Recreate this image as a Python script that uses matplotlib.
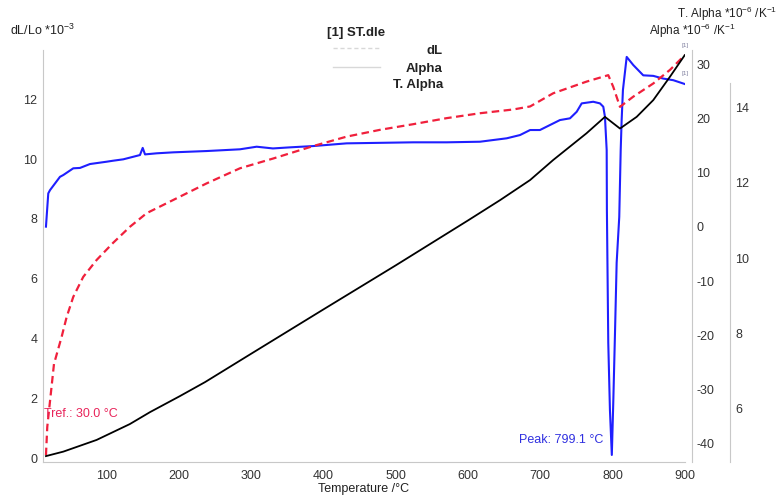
import matplotlib
matplotlib.use("Agg")
import matplotlib.pyplot as plt

plt.rcParams['font.family'] = ['Liberation Sans', 'DejaVu Sans']
plt.rcParams['mathtext.fontset'] = 'custom'
plt.rcParams['mathtext.rm'] = 'Liberation Sans'
plt.rcParams['mathtext.it'] = 'Liberation Sans:italic'
plt.rcParams['mathtext.bf'] = 'Liberation Sans:bold'
plt.rcParams['mathtext.default'] = 'regular'
plt.rcParams['axes.unicode_minus'] = False

# ---- data ----
dl_temp = [15.9, 40, 86, 132, 160, 201, 236, 300, 400, 500, 600, 644.5, 686, 718,
           764, 789.6, 810.4, 833.5, 856.5, 879.6, 900]
dl_val = [0.08, 0.23, 0.62, 1.15, 1.55, 2.08, 2.55, 3.5, 4.98, 6.45, 7.95, 8.63, 9.3,
          9.97, 10.86, 11.41, 11.02, 11.41, 11.97, 12.75, 13.47]

ta_temp = [15.9, 17.7, 27, 37.6, 44.6, 53.7, 67.5, 86.1, 108.7, 132.2, 155.3, 192.1,
           238.3, 284.4, 330.5, 385.9, 432.1, 478.2, 524.3, 570.5, 616.6, 662.7, 686,
           718, 764.3, 794.2, 801.1, 810.4, 828.8, 856.5, 879.6, 900]
ta_val = [4.77, 5.52, 7.19, 7.91, 8.44, 8.97, 9.50, 9.95, 10.40, 10.83, 11.19, 11.54,
          11.98, 12.38, 12.64, 12.97, 13.22, 13.40, 13.55, 13.71, 13.84, 13.94, 14.02,
          14.37, 14.68, 14.85, 14.54, 14.01, 14.28, 14.63, 14.99, 15.38]

al_temp = [15.9, 19.1, 21.5, 35.3, 39.9, 53.7, 63, 76.8, 99.9, 108.7, 122.9, 146,
           149.8, 153, 169.1, 192.1, 238.3, 284.4, 307.5, 330, 353.6, 385.9, 432.1,
           524.3, 570.5, 616.6, 653.6, 672, 686, 699.6, 727.3, 741.2, 750.5, 757.4,
           773.4, 782.7, 787.3, 789.6, 792, 792.3, 794.2, 796.5, 799.1, 801.1, 803.5,
           805.8, 809.4, 811.4, 812.7, 814.5, 819.7, 828.8, 842.6, 856.5, 870.3,
           884.2, 900]
al_val = [0.06, 6.2, 6.8, 9.26, 9.59, 10.83, 10.9, 11.62, 12.05, 12.23, 12.49, 13.28,
          14.6, 13.4, 13.60, 13.78, 14.02, 14.34, 14.82, 14.5, 14.70, 14.94, 15.44,
          15.63, 15.63, 15.74, 16.37, 16.97, 17.9, 17.9, 19.74, 20.06, 21.27, 22.82,
          23.12, 22.82, 22.2, 20.35, 14.2, 3.1, -21.4, -33.8, -42.1, -32.5, -19.6,
          -6.6, 1.85, 14.2, 19.7, 25.3, 31.4, 29.9, 28.0, 27.9, 27.4, 27.1, 26.4]

x_ticks = [100, 200, 300, 400, 500, 600, 700, 800, 900]
dl_ticks = [0, 2, 4, 6, 8, 10, 12]
al_ticks = [-40, -30, -20, -10, 0, 10, 20, 30]
ta_ticks = [6, 8, 10, 12, 14]

W, H = 780, 496
fig = plt.figure(figsize=(W / 100, H / 100), dpi=100)

def fx(x):
    return x / W

def fy(y):
    return 1 - y / H

L, R, T, B = 43, 685, 45, 462
rect = [fx(L), fy(B), (R - L) / W, (B - T) / H]

xlim = (11.8, 900.4)
tick_col = '#333333'
spine_col = '#c8c8c8'
fs = 9

# Alpha axis (blue)
ax_al = fig.add_axes(rect)
ax_al.set_zorder(1)
ax_al.patch.set_visible(False)
# T. Alpha axis (red)
ax_ta = fig.add_axes(rect)
ax_ta.set_zorder(2)
ax_ta.patch.set_visible(False)
# dL axis (black)
ax = fig.add_axes(rect)
ax.set_zorder(3)
ax.patch.set_visible(False)

for a in (ax_al, ax_ta, ax):
    a.set_xlim(*xlim)
    for s in a.spines.values():
        s.set_visible(False)
    a.tick_params(length=0, labelsize=fs, colors=tick_col)

# dL
ax.plot(dl_temp, dl_val, color='black', lw=1.3)
ax.set_ylim(-0.117, 13.81)
ax.set_yticks(dl_ticks)
ax.set_xticks(x_ticks)
ax.tick_params(axis='y', pad=4)
ax.tick_params(axis='x', pad=5.5)
ax.spines['left'].set_visible(True)
ax.spines['left'].set_color(spine_col)
ax.spines['left'].set_bounds(-0.117, 13.64)
ax.spines['bottom'].set_visible(True)
ax.spines['bottom'].set_color(spine_col)
ax.set_xlabel('Temperature /°C', fontsize=fs, color='#222222', labelpad=1)

# Alpha
ax_al.plot(al_temp, al_val, color='#1f1fff', lw=1.5)
ax_al.set_ylim(-43.4, 33.6)
ax_al.set_yticks(al_ticks)
ax_al.set_xticks([])
ax_al.yaxis.tick_right()
ax_al.tick_params(axis='y', pad=3)
ax_al.spines['right'].set_visible(True)
ax_al.spines['right'].set_color(spine_col)
ax_al.spines['right'].set_position(('axes', (692 - L) / (R - L)))
ax_al.spines['right'].set_bounds(-43.4, 32.7)

# T. Alpha
ax_ta.plot(ta_temp, ta_val, color='#f0203c', lw=1.6, dashes=(3.4, 2.0))
ax_ta.set_ylim(4.59, 15.65)
ax_ta.set_yticks(ta_ticks)
ax_ta.set_xticks([])
ax_ta.yaxis.tick_right()
ax_ta.tick_params(axis='y', pad=4)
ax_ta.spines['right'].set_visible(True)
ax_ta.spines['right'].set_color(spine_col)
ax_ta.spines['right'].set_position(('axes', (730 - L) / (R - L)))
ax_ta.spines['right'].set_bounds(4.59, 14.64)

# axis titles
fig.text(fx(10), fy(30), 'dL/Lo *10$^{-3}$', fontsize=fs, color='#222222',
         ha='left', va='center')
fig.text(fx(692), fy(31), 'Alpha *10$^{-6}$ /K$^{-1}$', fontsize=8.5, color='#222222',
         ha='center', va='center')
fig.text(fx(727), fy(14), 'T. Alpha *10$^{-6}$ /K$^{-1}$', fontsize=8.5, color='#222222',
         ha='center', va='center')

# legend block
fig.text(fx(327), fy(33), '[1] ST.dle', fontsize=9.5, fontweight='bold',
         color='#222222', ha='left', va='center')
fig.text(fx(443), fy(51), 'dL', fontsize=9.5, fontweight='bold', color='#222222',
         ha='right', va='center')
fig.text(fx(443), fy(69), 'Alpha', fontsize=9.5, fontweight='bold', color='#222222',
         ha='right', va='center')
fig.text(fx(443), fy(85), 'T. Alpha', fontsize=9.5, fontweight='bold', color='#222222',
         ha='right', va='center')
fig.add_artist(plt.Line2D([fx(333), fx(380)], [fy(48), fy(48)], color='#d8d8d8',
                          lw=1.0, dashes=(3, 2)))
fig.add_artist(plt.Line2D([fx(333), fx(380)], [fy(67), fy(67)], color='#d8d8d8',
                          lw=1.0))

# annotations
fig.text(fx(44), fy(414), 'Tref.: 30.0 °C', fontsize=fs, color='#e8245a',
         ha='left', va='center')
fig.text(fx(603), fy(440), 'Peak: 799.1 °C', fontsize=fs, color='#3030e0',
         ha='right', va='center')
fig.text(fx(685), fy(46), '[1]', fontsize=4.5, color='#8080a0', ha='center', va='center')
fig.text(fx(685), fy(73), '[1]', fontsize=4.5, color='#8080a0', ha='center', va='center')

fig.savefig('out.png', dpi=100)
